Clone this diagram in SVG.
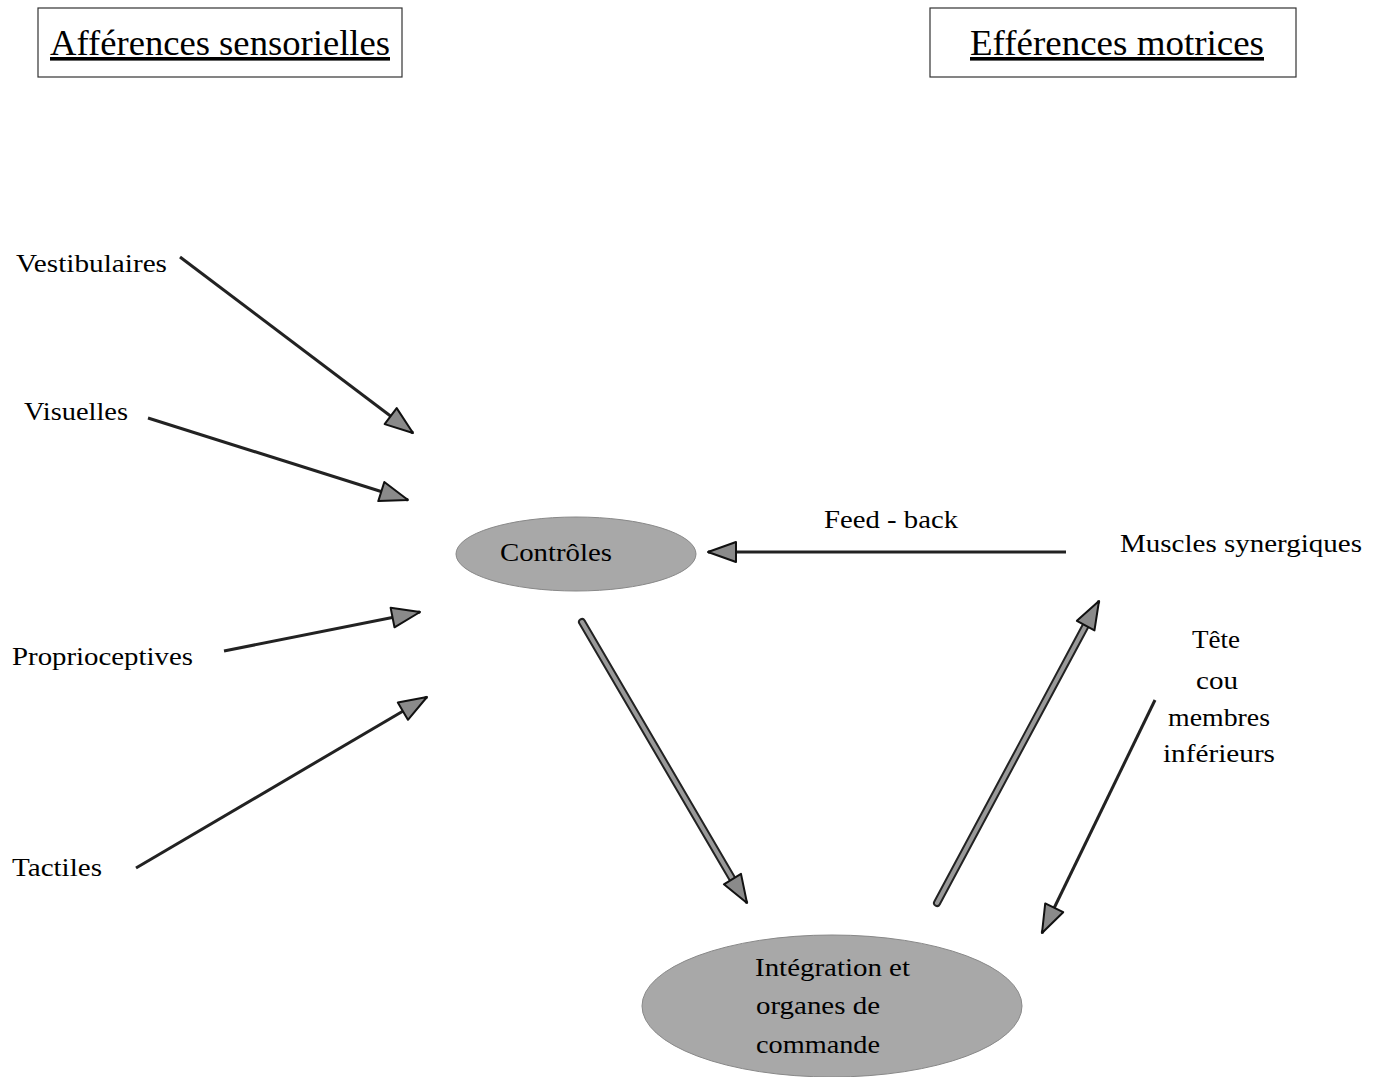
<svg xmlns="http://www.w3.org/2000/svg" width="1380" height="1077" viewBox="0 0 1380 1077">
<style>
text{font-family:"Liberation Serif","Times New Roman",serif;fill:#000}
.t{font-size:36px;text-decoration:underline}
.l{font-size:26px}
.box{fill:#fff;stroke:#333;stroke-width:1.2}
.ell{fill:#a8a8a8;stroke:#888;stroke-width:1}
.thin{stroke:#222;stroke-width:3;fill:none}
.thickO{stroke:#222;stroke-width:8;fill:none;stroke-linecap:round}
.thickI{stroke:#999;stroke-width:4;fill:none;stroke-linecap:round}
</style>
<defs>
<marker id="ah" markerUnits="userSpaceOnUse" viewBox="0 0 32 24" refX="30" refY="12" markerWidth="32" markerHeight="24" orient="auto">
<path d="M2,2 L30,12 L2,22 Z" fill="#8a8a8a" stroke="#111" stroke-width="2" stroke-linejoin="round"/>
</marker>
</defs>
<rect width="1380" height="1077" fill="#fff"/>
<g id="title-left"><rect class="box" x="38" y="8" width="364" height="69"/><text class="t" x="50" y="55" textLength="340" lengthAdjust="spacingAndGlyphs">Afférences sensorielles</text></g>
<g id="title-right"><rect class="box" x="930" y="8" width="366" height="69"/><text class="t" x="970" y="55" textLength="294" lengthAdjust="spacingAndGlyphs">Efférences motrices</text></g>
<g id="vestibulaires"><text class="l" x="16" y="272" textLength="151" lengthAdjust="spacingAndGlyphs">Vestibulaires</text></g>
<g id="visuelles"><text class="l" x="24" y="420" textLength="104" lengthAdjust="spacingAndGlyphs">Visuelles</text></g>
<g id="proprioceptives"><text class="l" x="12" y="665" textLength="181" lengthAdjust="spacingAndGlyphs">Proprioceptives</text></g>
<g id="tactiles"><text class="l" x="12" y="876" textLength="90" lengthAdjust="spacingAndGlyphs">Tactiles</text></g>
<g id="controles"><ellipse class="ell" cx="576" cy="554" rx="120" ry="37"/><text class="l" x="500" y="561" textLength="112" lengthAdjust="spacingAndGlyphs">Contrôles</text></g>
<g id="integration"><ellipse class="ell" cx="832" cy="1006" rx="190" ry="71"/><text class="l" x="755" y="976" textLength="155" lengthAdjust="spacingAndGlyphs">Intégration et</text><text class="l" x="756" y="1014" textLength="124" lengthAdjust="spacingAndGlyphs">organes de</text><text class="l" x="756" y="1053" textLength="124" lengthAdjust="spacingAndGlyphs">commande</text></g>
<g id="muscles"><text class="l" x="1120" y="552" textLength="242" lengthAdjust="spacingAndGlyphs">Muscles synergiques</text></g>
<g id="tete"><text class="l" x="1192" y="648" textLength="48" lengthAdjust="spacingAndGlyphs">Tête</text><text class="l" x="1196" y="689" textLength="42" lengthAdjust="spacingAndGlyphs">cou</text><text class="l" x="1168" y="726" textLength="102" lengthAdjust="spacingAndGlyphs">membres</text><text class="l" x="1163" y="762" textLength="112" lengthAdjust="spacingAndGlyphs">inférieurs</text></g>
<g id="feedback-label"><text class="l" x="824" y="528" textLength="134" lengthAdjust="spacingAndGlyphs">Feed - back</text></g>
<g id="connectors">
<line class="thin" x1="180" y1="257" x2="413" y2="433" marker-end="url(#ah)"/>
<line class="thin" x1="148" y1="418" x2="408" y2="500" marker-end="url(#ah)"/>
<line class="thin" x1="224" y1="651" x2="420" y2="612" marker-end="url(#ah)"/>
<line class="thin" x1="136" y1="868" x2="427" y2="697" marker-end="url(#ah)"/>
<line class="thin" x1="1066" y1="552" x2="708" y2="552" marker-end="url(#ah)"/>
<line class="thin" x1="1155" y1="700" x2="1042" y2="933" marker-end="url(#ah)"/>
<line class="thickO" x1="582" y1="622" x2="733" y2="880"/>
<line class="thickI" x1="582" y1="622" x2="733" y2="880"/>
<line class="thin" x1="733" y1="880" x2="747" y2="903" marker-end="url(#ah)" stroke-width="1"/>
<line class="thickO" x1="937" y1="903" x2="1086" y2="625"/>
<line class="thickI" x1="937" y1="903" x2="1086" y2="625"/>
<line class="thin" x1="1086" y1="625" x2="1099" y2="601" marker-end="url(#ah)" stroke-width="1"/>
</g>
</svg>
